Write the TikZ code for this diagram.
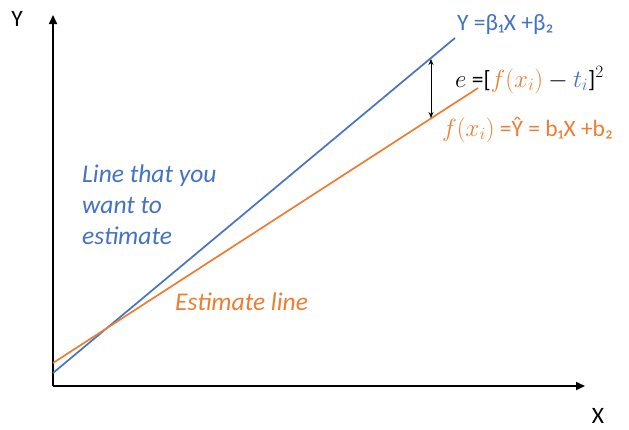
\documentclass[tikz,border=0pt]{standalone}
\usepackage{fontspec}
\setmainfont{Carlito}
\usetikzlibrary{arrows.meta}
\definecolor{myblue}{HTML}{4472C4}
\definecolor{myorange}{HTML}{ED7D31}
\newcommand{\lgmath}[1]{{\fontsize{27}{30}\selectfont$#1$}}
\begin{document}
\begin{tikzpicture}[x=1pt,y=-1pt,
  axis/.style={line width=1.7pt,-{Triangle[length=9pt,width=8pt]}},
  fitline/.style={line width=1.7pt},
  lbl/.style={inner sep=0pt,font=\fontsize{23.5}{26}\selectfont},
  itl/.style={inner sep=0pt,font=\fontsize{25.5}{31}\selectfont\itshape,align=left}]
\useasboundingbox (0,0) rectangle (629,429);
% axes
\coordinate (O) at (53,386);
\coordinate (Ytop) at (53,15);
\coordinate (Xend) at (585,386);
\draw[axis] (O) -- (Ytop);
\draw[axis] (O) -- (Xend);
\node[lbl] (ylab) at (17,19) {Y};
\node[lbl] (xlab) at (598,416) {X};
% lines
\coordinate (b1) at (53,373);
\coordinate (b2) at (455,38);
\coordinate (o1) at (53,363);
\coordinate (o2) at (478,88);
\draw[fitline,myblue] (b1) -- (b2);
\draw[fitline,myorange] (o1) -- (o2);
% error arrow
\coordinate (ea) at (431,59);
\coordinate (eb) at (431,118);
\draw[line width=0.8pt,{Stealth[length=6pt,width=5pt]}-{Stealth[length=6pt,width=5pt]}] (ea) -- (eb);
% labels
\node[lbl,anchor=west,text=myblue] (ytrue) at (457,25) {Y =β₁X +β₂};
\node[lbl,anchor=base west] (err) at (455,87) {\lgmath{e} =[\textcolor{myorange}{\lgmath{f(x_i)}} \lgmath{-} \textcolor{myblue}{\lgmath{t_i}}]\lgmath{^2}};
\node[lbl,anchor=base west,text=myorange] (yhat) at (442,136) {\lgmath{f(x_i)} =Ŷ = b₁X +b₂};
\node[itl,anchor=north west,text=myblue] (want) at (82,165) {Line that you\\want to\\estimate};
\node[itl,anchor=west,text=myorange] (est) at (175,302) {Estimate line};
\end{tikzpicture}
\end{document}
